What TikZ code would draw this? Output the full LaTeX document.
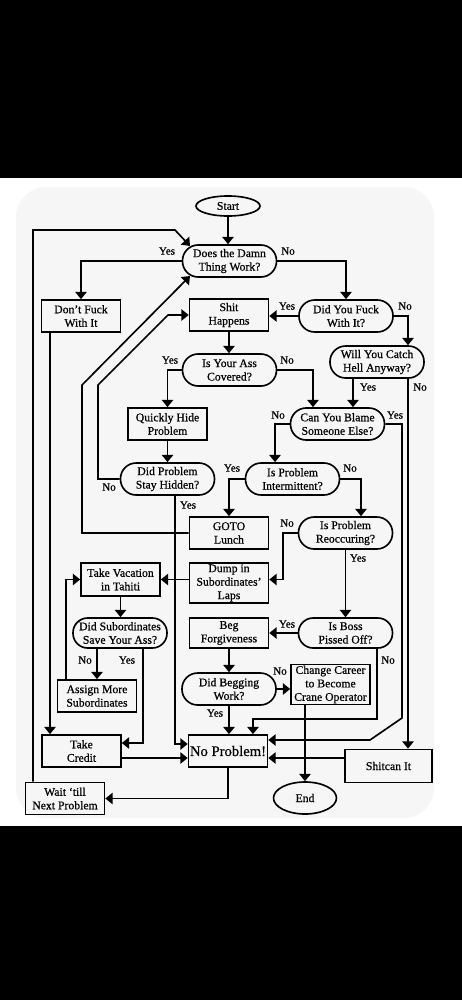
\documentclass[tikz,border=0pt]{standalone}
\usepackage{fontspec}
\setmainfont{Liberation Serif}[FakeBold=0.6]
\usepackage{tikz}
\usetikzlibrary{arrows.meta, calc, shapes.geometric}

\begin{document}
\begin{tikzpicture}[x=0.3mm, y=-0.3mm, line width=1.4pt,
  arr/.style={-{Triangle[width=3.4mm,length=2.2mm]}},
  box/.style={draw, rectangle, minimum width=23.7mm, minimum height=9.6mm, inner sep=1pt, align=center, font=\fontsize{10}{11.5}\selectfont},
  ask/.style={draw, rectangle, rounded corners=4.7mm, minimum width=28.2mm, minimum height=9.6mm, inner sep=1pt, align=center, font=\fontsize{10}{11.5}\selectfont},
  term/.style={draw, ellipse, inner sep=0pt, font=\fontsize{10}{11.5}\selectfont},
  lbl/.style={font=\fontsize{9.5}{10}\selectfont, inner sep=0pt}]
\useasboundingbox (0,0) rectangle (462,1000);
\fill[black] (0,0) rectangle (462,178);
\fill[black] (0,826) rectangle (462,1000);
\fill[gray!7, rounded corners=9mm] (16,187) rectangle (434,818);

\node[term, minimum width=19.2mm, minimum height=6mm] (start) at (228,206) {Start};
\node[ask] (work) at (229.5,261) {Does the Damn\\Thing Work?};
\node[box] (dont) at (81,316) {Don't Fuck\\With It};
\node[box] (shit) at (229,315) {Shit\\Happens};
\node[ask] (fuck) at (346,316) {Did You Fuck\\With It?};
\node[ask] (catch) at (377,362) {Will You Catch\\Hell Anyway?};
\node[ask] (covered) at (229.5,370) {Is Your Ass\\Covered?};
\node[box] (hide) at (167.5,424) {Quickly Hide\\Problem};
\node[ask] (blame) at (337.5,424) {Can You Blame\\Someone Else?};
\node[ask] (hidden) at (167.5,479) {Did Problem\\Stay Hidden?};
\node[ask] (interm) at (292.5,479) {Is Problem\\Intermittent?};
\node[box] (lunch) at (229,533) {GOTO\\Lunch};
\node[ask] (reocc) at (345.5,533) {Is Problem\\Reoccuring?};
\node[box, minimum height=10mm] (vacation) at (120.5,579.5) {Take Vacation\\in Tahiti};
\node[box, minimum height=12mm] (dump) at (229,583) {Dump in\\Subordinates'\\Laps};
\node[ask, minimum height=9mm, rounded corners=4.4mm] (save) at (120,633) {Did Subordinates\\Save Your Ass?};
\node[box, minimum height=9mm] (beg) at (229,633) {Beg\\Forgiveness};
\node[ask, minimum height=9mm, rounded corners=4.4mm] (boss) at (345.5,633) {Is Boss\\Pissed Off?};
\node[box] (assign) at (97,696) {Assign More\\Subordinates};
\node[ask] (begwork) at (229,689) {Did Begging\\Work?};
\node[box, minimum height=11.7mm] (career) at (330.5,684.5) {Change Career\\to Become\\Crane Operator};
\node[box] (credit) at (81.5,751) {Take\\Credit};
\node[box, font=\fontsize{12.5}{14}\selectfont] (noprob) at (228,751) {No Problem!};
\node[box, minimum width=26.1mm, minimum height=9.9mm] (shitcan) at (388.5,766) {Shitcan It};
\node[box] (wait) at (65,798.5) {Wait `till\\Next Problem};
\node[term, minimum width=18.9mm, minimum height=9.6mm] (endn) at (305,798) {End};

\foreach \nm/\x/\y/\t in {workyes/167/251/Yes, workno/288/251/No, fuckyes/287/306/Yes, fuckno/405/306/No,
  covyes/170/360/Yes, covno/287/360/No, catchyes/368/387/Yes, catchno/420/387/No,
  blameno/278/415/No, blameyes/395/415/Yes, hidno/109/487/No, hidyes/188/505/Yes,
  intyes/232/468/Yes, intno/350/468/No, reocno/287/523/No, reocyes/358/558/Yes,
  bossyes/287/624/Yes, bossno/388/660/No, saveno/85/660/No, saveyes/127/660/Yes,
  begno/280/671/No, begyes/215/713/Yes}
  \node[lbl] (\nm) at (\x,\y) {\t};

\coordinate (wl1) at (33,230);
\coordinate (wl2) at (175,230);
\coordinate (wl3) at (190,246);
\coordinate (ll1) at (82,385);
\coordinate (ll2) at (190,276);
\coordinate (hl1) at (98,385);
\coordinate (hl2) at (168,315);
\coordinate (by1) at (402,718);
\coordinate (by2) at (370,740);
\coordinate (bn2) at (253,719);
\coordinate (rn) at (283,579.5);

\draw[arr] (start.south) -- (start.south |- work.north);
\draw[arr] (work.west) -| (dont.north);
\draw[arr] (work.east) -| (fuck.north);
\draw[arr] (fuck.west) -- (fuck.west -| shit.east);
\draw[arr] (fuck.east) -| ($(catch.north)+(31,0)$);
\draw[arr] (shit.south) -- (shit.south |- covered.north);
\draw[arr] (covered.west) -| (hide.north);
\draw[arr] (covered.east) -| ($(blame.north)+(-24.5,0)$);
\draw[arr] ($(catch.south)+(-24,0)$) -- ($(blame.north)+(15.5,0)$);
\draw[arr] ($(catch.south)+(31,0)$) -- ($(shitcan.north)+(19.5,0)$);
\draw[arr] (hide) -- (hidden);
\draw[arr] (blame.west) -| ($(interm.north)+(-17.5,0)$);
\draw[arr] (blame.east) -| (by1) -- (by2) -- (by2 -| noprob.east);
\draw[arr] (interm.west) -| (lunch.north);
\draw[arr] (interm.east) -| ($(reocc.north)+(15.5,0)$);
\draw[arr] (hidden.west) -| (hl1) -- (hl2) -- (shit.west);
\draw[arr] ($(hidden.south)+(7.5,0)$) |- ($(noprob.west)+(0,-7)$);
\draw[arr] (lunch.west) -| (ll1) -- (ll2);
\draw[arr] (reocc.west) -| (rn) -- (rn -| dump.east);
\draw[arr] (reocc.south) -- (boss.north);
\draw[arr] (vacation.east -| dump.west) -- (vacation.east);
\draw[arr] (vacation.south) -- (vacation.south |- save.north);
\draw[arr] ($(save.south)+(-23,0)$) -- (assign.north);
\draw[arr] ($(save.south)+(23,0)$) |- ($(credit.east)+(0,-8)$);
\draw[arr] ($(assign.north)+(-31,0)$) |- (vacation.west);
\draw[arr] (boss.west) -- (beg.east);
\draw[arr] ($(boss.south)+(31.5,0)$) |- (bn2) -- (bn2 |- noprob.north);
\draw[arr] (beg) -- (begwork);
\draw[arr] (begwork.east) -- (begwork.east -| career.west);
\draw[arr] (begwork.south) -- (begwork.south |- noprob.north);
\draw[arr] ($(career.south)+(-25.5,0)$) -- (endn.north);
\draw[arr] ($(dont.south)+(-31,0)$) -- ($(credit.north)+(-31.5,0)$);
\draw[arr] ($(credit.east)+(0,7)$) -- ($(noprob.west)+(0,7)$);
\draw[arr] ($(shitcan.west)+(0,-8)$) -- ($(noprob.east)+(0,7)$);
\draw[arr] (noprob.south) |- (wait.east);
\draw[arr] ($(wait.north)+(-32,0)$) -- (wl1) -- (wl2) -- (wl3);
\end{tikzpicture}
\end{document}
